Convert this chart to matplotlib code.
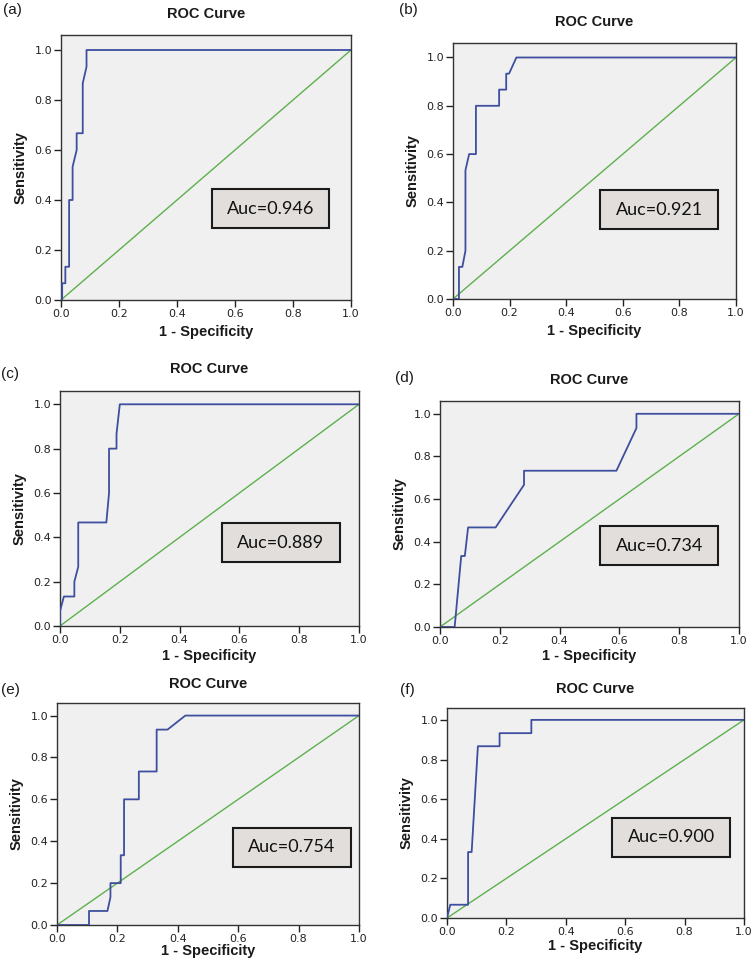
import matplotlib
matplotlib.use("Agg")
import matplotlib.pyplot as plt
from matplotlib.patches import Rectangle

# ROC points (1 - specificity, sensitivity)
fpr_a = [0, 0.004, 0.004, 0.015, 0.015, 0.028, 0.028, 0.04, 0.04, 0.054, 0.054, 0.075, 0.075, 0.088, 0.088, 1.0]
tpr_a = [0, 0, 0.067, 0.067, 0.133, 0.133, 0.4, 0.4, 0.533, 0.6, 0.667, 0.667, 0.867, 0.933, 1.0, 1.0]

fpr_b = [0, 0.021, 0.021, 0.033, 0.044, 0.044, 0.057, 0.081, 0.081, 0.163, 0.163, 0.188, 0.188, 0.198, 0.224, 1.0]
tpr_b = [0, 0, 0.133, 0.133, 0.2, 0.533, 0.6, 0.6, 0.8, 0.8, 0.867, 0.867, 0.933, 0.933, 1.0, 1.0]

fpr_c = [0, 0, 0.013, 0.048, 0.048, 0.061, 0.061, 0.155, 0.164, 0.164, 0.189, 0.189, 0.2, 1.0]
tpr_c = [0, 0.067, 0.133, 0.133, 0.2, 0.267, 0.467, 0.467, 0.6, 0.8, 0.8, 0.867, 1.0, 1.0]

fpr_d = [0, 0.049, 0.071, 0.083, 0.094, 0.186, 0.281, 0.281, 0.59, 0.657, 0.657, 1.0]
tpr_d = [0, 0, 0.333, 0.333, 0.467, 0.467, 0.667, 0.733, 0.733, 0.933, 1.0, 1.0]

fpr_e = [0, 0.106, 0.106, 0.167, 0.177, 0.177, 0.211, 0.211, 0.222, 0.222, 0.271, 0.271, 0.33, 0.33, 0.366, 0.425, 1.0]
tpr_e = [0, 0, 0.067, 0.067, 0.133, 0.2, 0.2, 0.333, 0.333, 0.6, 0.6, 0.733, 0.733, 0.933, 0.933, 1.0, 1.0]

fpr_f = [0, 0.011, 0.071, 0.071, 0.083, 0.104, 0.177, 0.177, 0.284, 0.284, 1.0]
tpr_f = [0, 0.067, 0.067, 0.333, 0.333, 0.867, 0.867, 0.933, 0.933, 1.0, 1.0]

panel_tags = ["(a)", "(b)", "(c)", "(d)", "(e)", "(f)"]
auc_values = ["0.946", "0.921", "0.889", "0.734", "0.754", "0.900"]
ticks = [0.0, 0.2, 0.4, 0.6, 0.8, 1.0]
tick_labels = ["0.0", "0.2", "0.4", "0.6", "0.8", "1.0"]

curves = [(fpr_a, tpr_a), (fpr_b, tpr_b), (fpr_c, tpr_c),
          (fpr_d, tpr_d), (fpr_e, tpr_e), (fpr_f, tpr_f)]

W, H = 755, 960
fig = plt.figure(figsize=(W / 100, H / 100), dpi=100)
fig.patch.set_facecolor("white")

# axes boxes in pixels: left, top, right, bottom
boxes = [(61, 35, 351, 300), (453, 43, 736, 299),
         (60, 391, 359, 626), (440, 401, 739, 627),
         (57, 703, 359, 925), (447, 708, 744, 918)]
# auc box in axes fraction: x0, x1, y0, y1
auc_boxes = [(0.52, 0.925, 0.272, 0.418), (0.52, 0.937, 0.273, 0.425),
             (0.542, 0.936, 0.272, 0.437), (0.535, 0.931, 0.274, 0.447),
             (0.583, 0.974, 0.263, 0.438), (0.555, 0.954, 0.292, 0.475)]
title_y = [14, 22, 369, 380, 684, 689]
xlab_y = [332, 331, 656, 656, 951, 946]
tag_xy = [(12, 10), (408, 10), (10, 374), (404, 378), (10, 690), (407, 690)]

blue = "#3d4f9e"
green = "#5db04e"
lab_font = dict(fontsize=10.5, fontweight="bold", family="Liberation Sans", color="#1a1a1a")

for i, (l, t, r, b) in enumerate(boxes):
    ax = fig.add_axes([l / W, 1 - b / H, (r - l) / W, (b - t) / H])
    ax.set_facecolor("#f1f0f0")
    fx, ty = curves[i]
    ax.plot([0, 1], [0, 1], color=green, lw=1.0, zorder=2)
    ax.plot(fx, ty, color=blue, lw=1.3, zorder=3)
    ax.set_xlim(0, 1)
    ax.set_ylim(0, 1.06)
    ax.set_xticks(ticks)
    ax.set_xticklabels(tick_labels)
    ax.set_yticks(ticks)
    ax.set_yticklabels(tick_labels)
    ax.tick_params(direction="out", length=5, width=1, pad=1.5,
                   labelsize=8, colors="#222222")
    for s in ax.spines.values():
        s.set_color("#333333")
        s.set_linewidth(1.0)

    x0, x1, y0, y1 = auc_boxes[i]
    ax.add_patch(Rectangle((x0, y0), x1 - x0, y1 - y0, transform=ax.transAxes,
                           facecolor="#e1dedb", edgecolor="#1a1a1a", lw=1.5, zorder=5))
    ax.text((x0 + x1) / 2, (y0 + y1) / 2, "Auc=" + auc_values[i], transform=ax.transAxes,
            ha="center", va="center", fontsize=13, family="Lato", color="#111111", zorder=6)

    cx = (l + r) / 2
    fig.text(cx / W, 1 - title_y[i] / H, "ROC Curve", ha="center", va="center", **lab_font)
    fig.text(cx / W, 1 - xlab_y[i] / H, "1 - Specificity", ha="center", va="center", **lab_font)
    fig.text((l - 40) / W, 1 - (t + b) / 2 / H, "Sensitivity", ha="center", va="center",
             rotation=90, **lab_font)
    tx, tyy = tag_xy[i]
    fig.text(tx / W, 1 - tyy / H, panel_tags[i], ha="center", va="center",
             fontsize=11, family="Liberation Sans", color="#1a1a1a")

fig.savefig("out.png", dpi=100, facecolor="white")
